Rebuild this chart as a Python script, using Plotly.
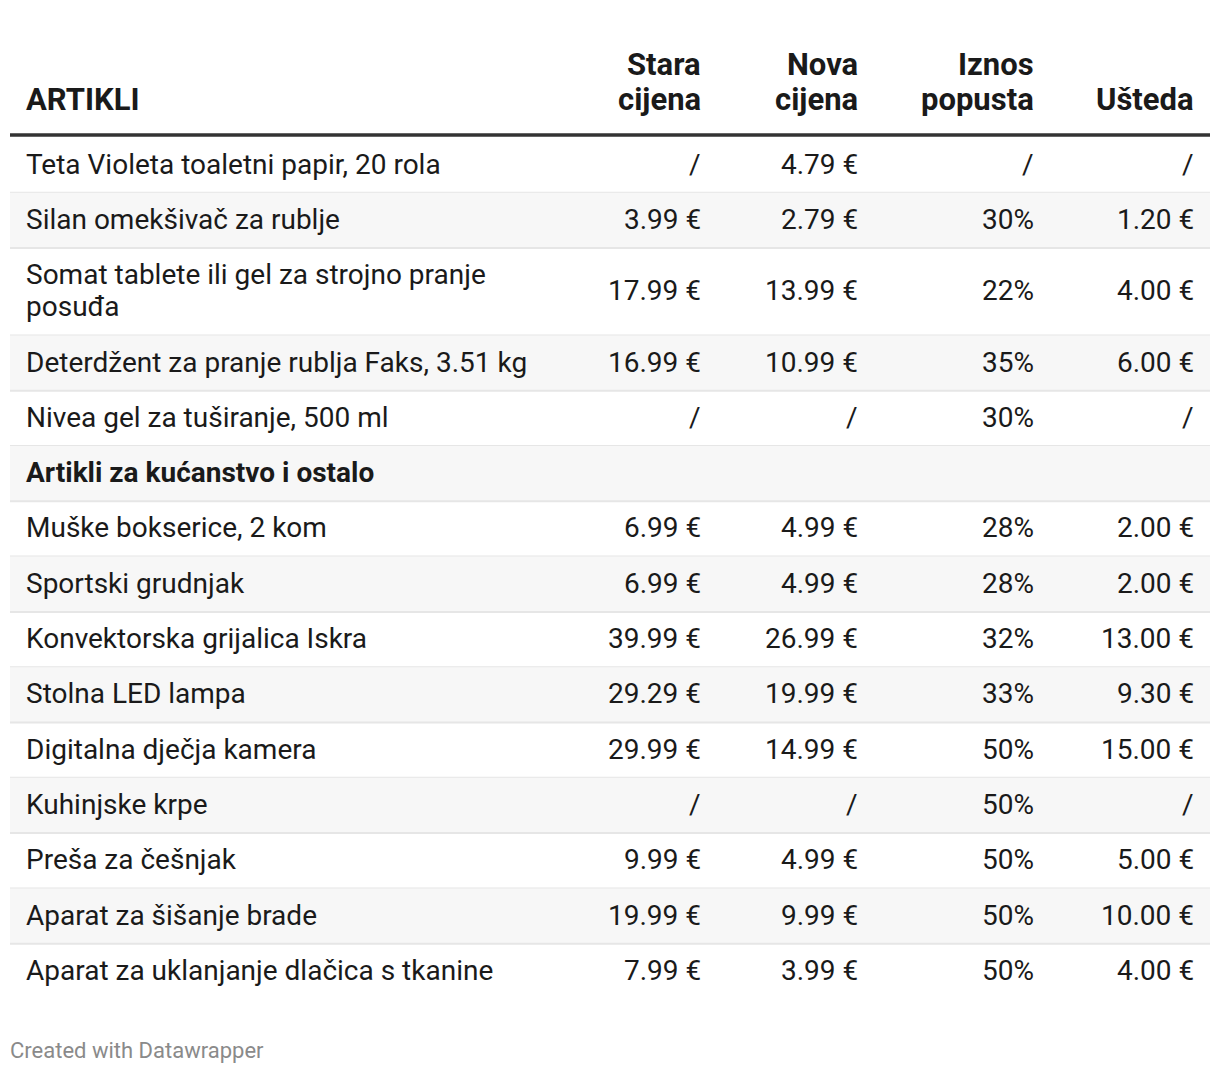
import plotly.graph_objects as go

# table data (None = "/" in the source table)
artikli = [
    "Teta Violeta toaletni papir, 20 rola",
    "Silan omekšivač za rublje",
    "Somat tablete ili gel za strojno pranje<br>posuđa",
    "Deterdžent za pranje rublja Faks, 3.51 kg",
    "Nivea gel za tuširanje, 500 ml",
    "Artikli za kućanstvo i ostalo",
    "Muške bokserice, 2 kom",
    "Sportski grudnjak",
    "Konvektorska grijalica Iskra",
    "Stolna LED lampa",
    "Digitalna dječja kamera",
    "Kuhinjske krpe",
    "Preša za češnjak",
    "Aparat za šišanje brade",
    "Aparat za uklanjanje dlačica s tkanine",
]
kategorija = [False, False, False, False, False, True, False, False, False, False, False, False, False, False, False]
stara_cijena = [None, 3.99, 17.99, 16.99, None, None, 6.99, 6.99, 39.99, 29.29, 29.99, None, 9.99, 19.99, 7.99]
nova_cijena = [4.79, 2.79, 13.99, 10.99, None, None, 4.99, 4.99, 26.99, 19.99, 14.99, None, 4.99, 9.99, 3.99]
popust = [None, 30, 22, 35, 30, None, 28, 28, 32, 33, 50, 50, 50, 50, 50]
usteda = [None, 1.20, 4.00, 6.00, None, None, 2.00, 2.00, 13.00, 9.30, 15.00, None, 5.00, 10.00, 4.00]

headers = ["ARTIKLI", "Stara<br>cijena", "Nova<br>cijena", "Iznos<br>popusta", "Ušteda"]


def fmt_eur(v):
    return "/" if v is None else f"{v:.2f} €"


def fmt_pct(v):
    return "/" if v is None else f"{v}%"


W, H = 1220, 1074
FONT = "Roboto, Arial, sans-serif"
TXT = "#1a1a1a"
BODY_SIZE = 28
HEAD_SIZE = 31

col_x = [24, 703, 860, 1036, 1196]
col_anchor = ["left", "right", "right", "right", "right"]
left, right = 10, 1210
header_line_y = 135
body_top = 137.5
row_h = 55.3
line_h = 32
head_line_h = 35


def add_text(x, yc, text, anc, size, step, bold=False):
    # multi-line cell: split on <br> so the line spacing can be set exactly
    parts = text.split("<br>")
    y0 = yc - step * (len(parts) - 1) / 2
    for k, p in enumerate(parts):
        annotations.append(dict(x=x, y=y0 + k * step, text=f"<b>{p}</b>" if bold else p,
                                xanchor=anc, yanchor="middle", showarrow=False,
                                font=dict(family=FONT, size=size, color=TXT)))


fig = go.Figure()
shapes = []
annotations = []

# header, bottom-aligned
for x, anc, h in zip(col_x, col_anchor, headers):
    parts = h.split("<br>")
    for k, p in enumerate(reversed(parts)):
        add_text(x, 99 - k * head_line_h, p, anc, HEAD_SIZE, head_line_h, bold=True)
shapes.append(dict(type="line", x0=left, x1=right, y0=header_line_y, y1=header_line_y,
                   line=dict(color="#333333", width=3.5), layer="above"))

y = body_top
n = len(artikli)
for i in range(n):
    lines = artikli[i].count("<br>") + 1
    h = row_h + line_h * (lines - 1)
    yc = y + h / 2
    if i % 2 == 1:
        shapes.append(dict(type="rect", x0=left, x1=right, y0=y, y1=y + h,
                           fillcolor="#f7f7f7", line=dict(width=0), layer="below"))
    if i < n - 1:
        shapes.append(dict(type="line", x0=left, x1=right, y0=y + h, y1=y + h,
                           line=dict(color="#e6e6e6", width=2), layer="below"))
    cells = [artikli[i]]
    if kategorija[i]:
        cells += ["", "", "", ""]
    else:
        cells += [fmt_eur(stara_cijena[i]), fmt_eur(nova_cijena[i]), fmt_pct(popust[i]), fmt_eur(usteda[i])]
    for x, anc, t in zip(col_x, col_anchor, cells):
        if t == "":
            continue
        add_text(x, yc - 1, t, anc, BODY_SIZE, line_h, bold=kategorija[i])
    y += h

annotations.append(dict(x=8, y=1050, text="Created with Datawrapper", xanchor="left",
                        yanchor="middle", showarrow=False,
                        font=dict(family=FONT, size=22, color="#8a8a8a")))

fig.update_layout(
    width=W, height=H,
    margin=dict(l=0, r=0, t=0, b=0),
    paper_bgcolor="white", plot_bgcolor="white",
    xaxis=dict(range=[0, W], visible=False, fixedrange=True),
    yaxis=dict(range=[H, 0], visible=False, fixedrange=True),
    shapes=shapes, annotations=annotations,
    showlegend=False,
)

fig.write_html("out.html", config={"displayModeBar": False},
               post_script="document.body.style.margin='0';")
